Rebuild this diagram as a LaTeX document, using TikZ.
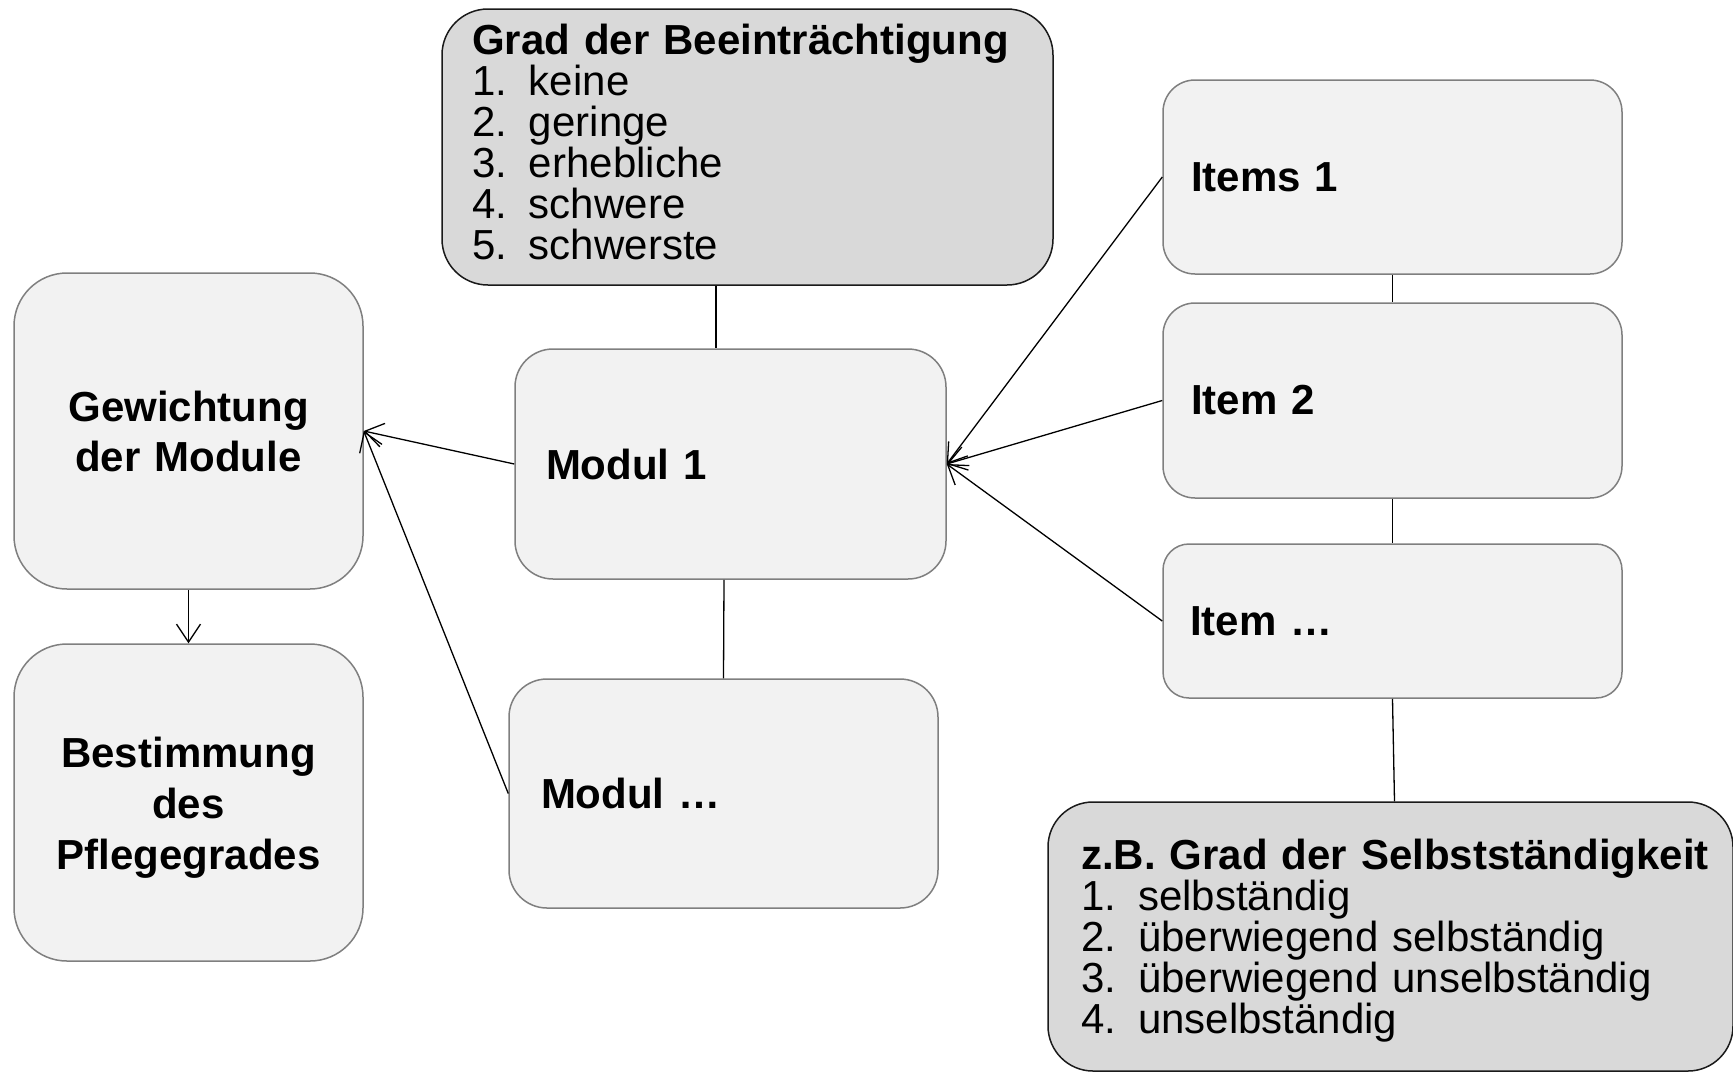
\documentclass[tikz,border=0pt]{standalone}
\usepackage{fontspec}
\setmainfont{Liberation Sans}
\usetikzlibrary{arrows.meta}

\definecolor{boxfill}{HTML}{F2F2F2}
\definecolor{boxline}{HTML}{7F7F7F}
\definecolor{scalefill}{HTML}{D9D9D9}
\definecolor{scaleline}{HTML}{1A1A1A}

\newcommand{\numitem}[2]{\makebox[57pt][l]{#1}#2}

\begin{document}
\begin{tikzpicture}[x=1pt,y=-1pt,
  base/.style={inner ysep=0pt, inner xsep=30pt, line width=1.5pt, align=left},
  box/.style={base, draw=boxline, fill=boxfill,
    font=\fontsize{42}{50}\selectfont\bfseries},
  scalebox/.style={base, draw=scaleline, fill=scalefill,
    font=\fontsize{42}{41}\selectfont},
  dims/.style n args={4}{minimum width=#1, minimum height=#2,
    text width=#3, rounded corners=#4},
  link/.style={line width=1.3pt, draw=black},
  arrow/.style={link, -{Straight Barb[length=18pt, width=24pt, line width=1.3pt]}}
]
\useasboundingbox (0,0) rectangle (1733,1072);
\begin{scope}
\clip (0,0) rectangle (1733,1072);

% scale of impairment
\node[scalebox, dims={611pt}{276pt}{551pt}{46pt}] (grad) at (747.5,147)
  {\mbox{\textbf{Grad der Beeinträchtigung}}\\
   \numitem{1.}{keine}\\
   \numitem{2.}{geringe}\\
   \numitem{3.}{erhebliche}\\
   \numitem{4.}{schwere}\\
   \numitem{5.}{schwerste}\rule[-11pt]{0pt}{11pt}};

% weighting and result
\node[box, align=center, dims={349pt}{316pt}{289pt}{53pt}] (gew) at (188.5,431)
  {Gewichtung\\der Module};
\node[box, align=center, dims={349pt}{317pt}{289pt}{53pt},
  font=\fontsize{42}{51}\selectfont\bfseries] (best) at (188.5,802.5)
  {\rule{0pt}{41pt}Bestimmung\\des\\Pflegegrades};

% modules
\node[box, dims={429pt}{230pt}{369pt}{38pt}, inner xsep=31pt] (m1) at (730.5,464) {Modul 1};
\node[box, dims={429pt}{229pt}{365pt}{38pt}, inner xsep=32pt] (mdots) at (723.5,793.5) {Modul …};

% items
\node[box, dims={459pt}{194pt}{403pt}{32pt}, inner xsep=28pt] (it1) at (1392.5,177) {Items 1};
\node[box, dims={459pt}{195pt}{403pt}{32pt}, inner xsep=28pt] (it2) at (1392.5,400.5) {Item 2};
\node[box, dims={459pt}{154pt}{405pt}{26pt}, inner xsep=27pt] (it3) at (1392.5,621) {Item …};

% scale of independence
\node[scalebox, dims={685pt}{269pt}{619pt}{45pt}, inner xsep=33pt] (zb) at (1390.5,936.5)
  {\rule{0pt}{38pt}\mbox{\textbf{z.B. Grad der Selbstständigkeit}}\\
   \numitem{1.}{selbständig}\\
   \numitem{2.}{überwiegend selbständig}\\
   \numitem{3.}{überwiegend unselbständig}\\
   \numitem{4.}{unselbständig}};
\end{scope}

% plain links
\draw[link] ([xshift=-31.5pt]grad.south) -- ([xshift=-14.5pt]m1.north);
\draw[link] ([xshift=-6.5pt]m1.south) -- (mdots.north);
\draw[link] (it1.south) -- (it2.north);
\draw[link] (it2.south) -- (it3.north);
\draw[link] (it3.south) -- ([xshift=4pt]zb.north);

% arrows
\draw[arrow] (it1.west) -- (m1.east);
\draw[arrow] (it2.west) -- (m1.east);
\draw[arrow] (it3.west) -- (m1.east);
\draw[arrow] (m1.west) -- (gew.east);
\draw[arrow] (mdots.west) -- (gew.east);
\draw[arrow] (gew.south) -- (best.north);
\end{tikzpicture}
\end{document}
